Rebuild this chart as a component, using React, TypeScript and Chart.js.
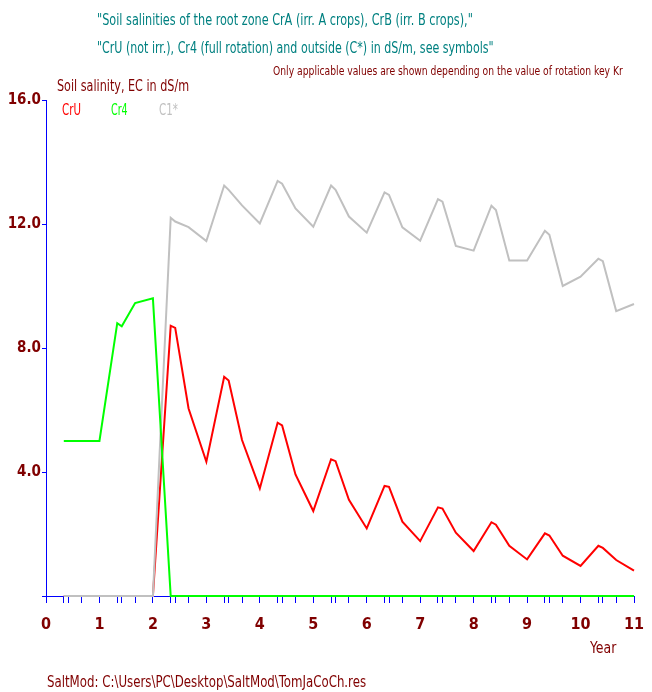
import React, { useEffect, useLayoutEffect, useRef } from 'react';
import { Chart, registerables } from 'chart.js';

Chart.register(...registerables);

// Season ends (years)
const seasonTimes = [
  0.333, 0.417, 0.667, 1,
  1.333, 1.417, 1.667, 2,
  2.333, 2.417, 2.667, 3,
  3.333, 3.417, 3.667, 4,
  4.333, 4.417, 4.667, 5,
  5.333, 5.417, 5.667, 6,
  6.333, 6.417, 6.667, 7,
  7.333, 7.417, 7.667, 8,
  8.333, 8.417, 8.667, 9,
  9.333, 9.417, 9.667, 10,
  10.333, 10.417, 10.667, 11,
];

// CrU (not irrigated)
const crU = [
  0, 0, 0, 0,
  0, 0, 0, 0,
  8.72, 8.65, 6.05, 4.33,
  7.07, 6.95, 5.03, 3.47,
  5.59, 5.5, 3.92, 2.74,
  4.41, 4.35, 3.1, 2.18,
  3.55, 3.52, 2.4, 1.77,
  2.86, 2.82, 2.04, 1.45,
  2.38, 2.3, 1.62, 1.18,
  2.02, 1.95, 1.3, 0.97,
  1.62, 1.55, 1.16, 0.82,
];

// Cr4 (full rotation)
const cr4 = [
  5.0, 5.0, 5.0, 5.0,
  8.8, 8.7, 9.45, 9.6,
  0, 0, 0, 0,
  0, 0, 0, 0,
  0, 0, 0, 0,
  0, 0, 0, 0,
  0, 0, 0, 0,
  0, 0, 0, 0,
  0, 0, 0, 0,
  0, 0, 0, 0,
  0, 0, 0, 0,
];

// C1* (outside)
const c1 = [
  0, 0, 0, 0,
  0, 0, 0, 0,
  12.2, 12.08, 11.9, 11.45,
  13.24, 13.1, 12.6, 12.02,
  13.39, 13.3, 12.5, 11.91,
  13.24, 13.1, 12.24, 11.72,
  13.02, 12.94, 11.89, 11.46,
  12.8, 12.72, 11.29, 11.14,
  12.59, 12.45, 10.82, 10.82,
  11.78, 11.65, 10.0, 10.3,
  10.88, 10.8, 9.19, 9.42,
];

const xTickValues = [0, ...seasonTimes];
const xTickLabels = xTickValues.map((v) => (Number.isInteger(v) ? String(v) : ''));
const yTickValues = [0, 4, 8, 12, 16];
const yTickLabels = ['', '4.0', '8.0', '12.0', '16.0'];

const FONT = '"Liberation Sans Narrow", "Arial Narrow", "DejaVu Sans Condensed", sans-serif';
const DARKRED = '#800000';
const TEAL = '#008080';
const BLUE = '#0000FF';

type FitProps = { x: number; cy: number; w: number; size: number; color: string; bold?: boolean; text: string };

function FitText({ x, cy, w, size, color, bold, text }: FitProps) {
  const ref = useRef<HTMLSpanElement>(null);
  useLayoutEffect(() => {
    const fit = () => {
      const el = ref.current;
      if (!el) return;
      const nat = el.offsetWidth;
      if (nat > 0) el.style.transform = `scaleX(${w / nat})`;
    };
    fit();
    if ((document as any).fonts && (document as any).fonts.ready) {
      (document as any).fonts.ready.then(fit);
    }
  }, [w, text]);
  return (
    <span
      ref={ref}
      style={{
        position: 'absolute',
        left: x,
        top: cy - size * 0.6,
        fontSize: size,
        lineHeight: `${size * 1.2}px`,
        fontFamily: FONT,
        fontWeight: bold ? 'bold' : 'normal',
        color,
        whiteSpace: 'nowrap',
        transformOrigin: '0 0',
      }}
    >
      {text}
    </span>
  );
}

export default function App() {
  const canvasRef = useRef<HTMLCanvasElement>(null);

  useEffect(() => {
    const canvas = canvasRef.current;
    if (!canvas) return;
    const mk = (vals: number[]) => seasonTimes.map((t, i) => ({ x: t, y: vals[i] }));
    const common = { borderWidth: 2, pointRadius: 0, tension: 0, clip: 6 };
    const chart = new Chart(canvas, {
      type: 'line',
      data: {
        datasets: [
          { label: 'Cr4', data: mk(cr4), borderColor: '#00FF00', backgroundColor: '#00FF00', order: 0, ...common },
          { label: 'C1*', data: mk(c1), borderColor: '#C0C0C0', backgroundColor: '#C0C0C0', order: 1, ...common },
          { label: 'CrU', data: mk(crU), borderColor: '#FF0000', backgroundColor: '#FF0000', order: 2, ...common },
        ],
      },
      options: {
        responsive: false,
        animation: false,
        devicePixelRatio: 1,
        layout: { padding: { left: 0, top: 100, right: 18, bottom: 0 } },
        plugins: { legend: { display: false }, tooltip: { enabled: false }, title: { display: false } },
        scales: {
          x: {
            type: 'linear',
            min: 0,
            max: 11,
            afterBuildTicks: (s: any) => {
              s.ticks = xTickValues.map((v) => ({ value: v }));
            },
            afterFit: (s: any) => {
              s.height = 96;
              s.paddingLeft = 0;
              s.paddingRight = 0;
            },
            ticks: {
              autoSkip: false,
              maxRotation: 0,
              padding: 12,
              color: DARKRED,
              font: { family: FONT, size: 16, weight: 'bold' },
              callback: (_v: any, i: number) => xTickLabels[i],
            },
            grid: { drawOnChartArea: false, drawTicks: true, tickLength: 7, color: BLUE, tickColor: BLUE },
            border: { display: true, color: BLUE, width: 1 },
          },
          y: {
            type: 'linear',
            min: 0,
            max: 16,
            afterBuildTicks: (s: any) => {
              s.ticks = yTickValues.map((v) => ({ value: v }));
            },
            afterFit: (s: any) => {
              s.width = 46;
              s.paddingTop = 0;
              s.paddingBottom = 0;
            },
            ticks: {
              padding: 1,
              color: DARKRED,
              font: { family: FONT, size: 15, weight: 'bold' },
              callback: (_v: any, i: number) => yTickLabels[i],
            },
            grid: { drawOnChartArea: false, drawTicks: true, tickLength: 4, color: BLUE, tickColor: BLUE },
            border: { display: true, color: BLUE, width: 1 },
          },
        },
      },
    } as any);
    return () => chart.destroy();
  }, []);

  return (
    <div style={{ position: 'absolute', left: 0, top: 0, width: 652, height: 692, background: '#fff', overflow: 'hidden' }}>
      <canvas ref={canvasRef} width={652} height={692} style={{ position: 'absolute', left: 0, top: 0, width: 652, height: 692 }} />
      <FitText x={97} cy={20} w={376} size={15} color={TEAL} text={'"Soil salinities of the root zone CrA (irr. A crops), CrB (irr. B crops),"'} />
      <FitText x={97} cy={48} w={397} size={15} color={TEAL} text={'"CrU (not irr.), Cr4 (full rotation) and outside (C*) in dS/m, see symbols"'} />
      <FitText x={273} cy={71} w={350} size={13} color={DARKRED} text={'Only applicable values are shown depending on the value of rotation key Kr'} />
      <FitText x={57} cy={86} w={132} size={15} color={DARKRED} text={'Soil salinity, EC in dS/m'} />
      <FitText x={62} cy={110} w={19} size={15} color={'#FF0000'} text={'CrU'} />
      <FitText x={111} cy={110} w={17} size={15} color={'#00FF00'} text={'Cr4'} />
      <FitText x={159} cy={110} w={19} size={15} color={'#C0C0C0'} text={'C1*'} />
      <FitText x={590} cy={648} w={26} size={15} color={DARKRED} text={'Year'} />
      <FitText x={47} cy={682} w={319} size={15} color={DARKRED} text={'SaltMod: C:\\Users\\PC\\Desktop\\SaltMod\\TomJaCoCh.res'} />
    </div>
  );
}
